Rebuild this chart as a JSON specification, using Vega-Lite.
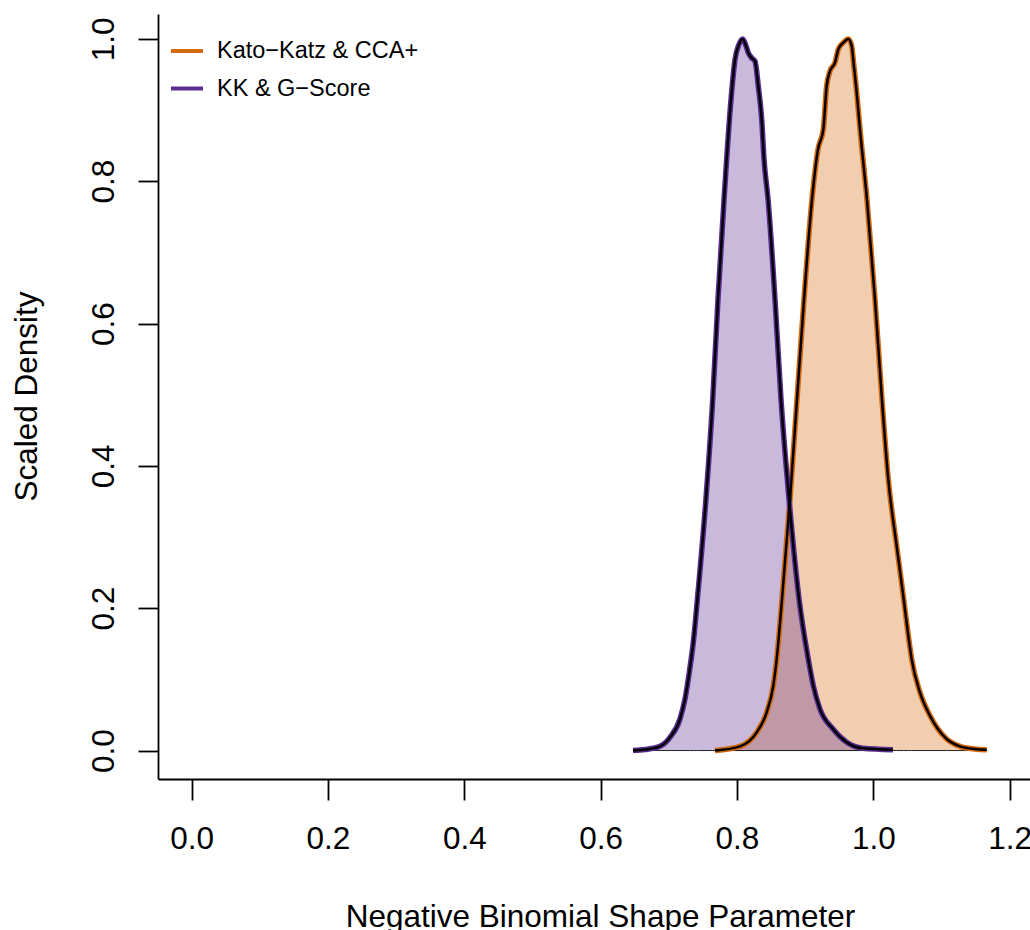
{
  "$schema": "https://vega.github.io/schema/vega-lite/v6.json",
  "width": 872,
  "height": 765,
  "autosize": {"type": "none"},
  "padding": {"left": 158, "top": 14, "right": 0, "bottom": 151},
  "background": "white",
  "config": {
    "view": {"stroke": null},
    "font": "Liberation Sans",
    "axis": {
      "grid": false,
      "domainColor": "black",
      "domainWidth": 1.8,
      "tickColor": "black",
      "tickWidth": 1.8,
      "labelColor": "black",
      "labelFontSize": 31.5,
      "labelFont": "Liberation Sans",
      "labelFlush": false,
      "labelOverlap": false,
      "titleColor": "black",
      "titleFontSize": 31.5,
      "titleFont": "Liberation Sans",
      "titleFontWeight": "normal"
    },
    "legend": {
      "title": null,
      "orient": "none",
      "legendX": 11,
      "legendY": 19,
      "padding": 0,
      "symbolType": "stroke",
      "symbolStrokeWidth": 4,
      "symbolSize": 1024,
      "symbolOpacity": 1,
      "labelFont": "Liberation Sans",
      "labelFontSize": 23.5,
      "labelColor": "black",
      "labelOffset": 12,
      "labelLimit": 500,
      "rowPadding": 7.5
    }
  },
  "data": {
    "values": [
      {"series": "Kato−Katz & CCA+", "x": 0.7678, "density": 0},
      {"series": "Kato−Katz & CCA+", "x": 0.8046, "density": 0.0059},
      {"series": "Kato−Katz & CCA+", "x": 0.8290, "density": 0.0256},
      {"series": "Kato−Katz & CCA+", "x": 0.8436, "density": 0.0537},
      {"series": "Kato−Katz & CCA+", "x": 0.8533, "density": 0.0910},
      {"series": "Kato−Katz & CCA+", "x": 0.8583, "density": 0.1285},
      {"series": "Kato−Katz & CCA+", "x": 0.8661, "density": 0.2128},
      {"series": "Kato−Katz & CCA+", "x": 0.8778, "density": 0.3532},
      {"series": "Kato−Katz & CCA+", "x": 0.8881, "density": 0.4937},
      {"series": "Kato−Katz & CCA+", "x": 0.8984, "density": 0.6341},
      {"series": "Kato−Katz & CCA+", "x": 0.9101, "density": 0.7746},
      {"series": "Kato−Katz & CCA+", "x": 0.9189, "density": 0.8448},
      {"series": "Kato−Katz & CCA+", "x": 0.9267, "density": 0.8729},
      {"series": "Kato−Katz & CCA+", "x": 0.9316, "density": 0.9337},
      {"series": "Kato−Katz & CCA+", "x": 0.9365, "density": 0.9548},
      {"series": "Kato−Katz & CCA+", "x": 0.9438, "density": 0.9666},
      {"series": "Kato−Katz & CCA+", "x": 0.9487, "density": 0.9853},
      {"series": "Kato−Katz & CCA+", "x": 0.9560, "density": 0.9947},
      {"series": "Kato−Katz & CCA+", "x": 0.9633, "density": 1.0},
      {"series": "Kato−Katz & CCA+", "x": 0.9683, "density": 0.9906},
      {"series": "Kato−Katz & CCA+", "x": 0.9707, "density": 0.9698},
      {"series": "Kato−Katz & CCA+", "x": 0.9757, "density": 0.9244},
      {"series": "Kato−Katz & CCA+", "x": 0.9805, "density": 0.8729},
      {"series": "Kato−Katz & CCA+", "x": 0.9907, "density": 0.7746},
      {"series": "Kato−Katz & CCA+", "x": 1.0025, "density": 0.6341},
      {"series": "Kato−Katz & CCA+", "x": 1.0127, "density": 0.4937},
      {"series": "Kato−Katz & CCA+", "x": 1.0220, "density": 0.3813},
      {"series": "Kato−Katz & CCA+", "x": 1.0343, "density": 0.2876},
      {"series": "Kato−Katz & CCA+", "x": 1.0440, "density": 0.2174},
      {"series": "Kato−Katz & CCA+", "x": 1.0514, "density": 0.1612},
      {"series": "Kato−Katz & CCA+", "x": 1.0563, "density": 0.1285},
      {"series": "Kato−Katz & CCA+", "x": 1.0685, "density": 0.0817},
      {"series": "Kato−Katz & CCA+", "x": 1.0832, "density": 0.0489},
      {"series": "Kato−Katz & CCA+", "x": 1.1077, "density": 0.0162},
      {"series": "Kato−Katz & CCA+", "x": 1.1272, "density": 0.0059},
      {"series": "Kato−Katz & CCA+", "x": 1.1492, "density": 0.0021},
      {"series": "Kato−Katz & CCA+", "x": 1.1664, "density": 0.0011},
      {"series": "KK & G−Score", "x": 0.6475, "density": 0},
      {"series": "KK & G−Score", "x": 0.6651, "density": 0.0014},
      {"series": "KK & G−Score", "x": 0.6871, "density": 0.0059},
      {"series": "KK & G−Score", "x": 0.7018, "density": 0.0185},
      {"series": "KK & G−Score", "x": 0.7164, "density": 0.0442},
      {"series": "KK & G−Score", "x": 0.7238, "density": 0.0723},
      {"series": "KK & G−Score", "x": 0.7301, "density": 0.1098},
      {"series": "KK & G−Score", "x": 0.7365, "density": 0.1566},
      {"series": "KK & G−Score", "x": 0.7420, "density": 0.2128},
      {"series": "KK & G−Score", "x": 0.7545, "density": 0.3532},
      {"series": "KK & G−Score", "x": 0.7645, "density": 0.4937},
      {"series": "KK & G−Score", "x": 0.7722, "density": 0.6341},
      {"series": "KK & G−Score", "x": 0.7811, "density": 0.7746},
      {"series": "KK & G−Score", "x": 0.7913, "density": 0.9150},
      {"series": "KK & G−Score", "x": 0.7972, "density": 0.9712},
      {"series": "KK & G−Score", "x": 0.8030, "density": 0.9923},
      {"series": "KK & G−Score", "x": 0.8085, "density": 1.0},
      {"series": "KK & G−Score", "x": 0.8133, "density": 0.9902},
      {"series": "KK & G−Score", "x": 0.8166, "density": 0.9806},
      {"series": "KK & G−Score", "x": 0.8216, "density": 0.9733},
      {"series": "KK & G−Score", "x": 0.8264, "density": 0.9688},
      {"series": "KK & G−Score", "x": 0.8313, "density": 0.9337},
      {"series": "KK & G−Score", "x": 0.8363, "density": 0.8869},
      {"series": "KK & G−Score", "x": 0.8397, "density": 0.8308},
      {"series": "KK & G−Score", "x": 0.8456, "density": 0.7746},
      {"series": "KK & G−Score", "x": 0.8558, "density": 0.6341},
      {"series": "KK & G−Score", "x": 0.8646, "density": 0.4937},
      {"series": "KK & G−Score", "x": 0.8764, "density": 0.3532},
      {"series": "KK & G−Score", "x": 0.8911, "density": 0.2128},
      {"series": "KK & G−Score", "x": 0.9046, "density": 0.1285},
      {"series": "KK & G−Score", "x": 0.9120, "density": 0.0910},
      {"series": "KK & G−Score", "x": 0.9218, "density": 0.0583},
      {"series": "KK & G−Score", "x": 0.9409, "density": 0.0302},
      {"series": "KK & G−Score", "x": 0.9610, "density": 0.0115},
      {"series": "KK & G−Score", "x": 0.9849, "density": 0.0031},
      {"series": "KK & G−Score", "x": 1.0289, "density": 0.0011}
    ]
  },
  "encoding": {
    "x": {
      "field": "x",
      "type": "quantitative",
      "scale": {"domain": [-0.0493, 1.2299], "nice": false, "zero": false},
      "axis": {
        "values": [0, 0.2, 0.4, 0.6, 0.8, 1.0, 1.2],
        "format": ".1f",
        "tickSize": 21,
        "labelBaseline": "alphabetic",
        "labelPadding": 48,
        "title": "Negative Binomial Shape Parameter",
        "titleBaseline": "alphabetic",
        "titleX": 442,
        "titleY": 147,
        "titleAnchor": "middle"
      }
    },
    "y": {
      "field": "density",
      "type": "quantitative",
      "scale": {"domain": [-0.04, 1.035], "nice": false, "zero": false},
      "axis": {
        "values": [0, 0.2, 0.4, 0.6, 0.8, 1.0],
        "format": ".1f",
        "tickSize": 20,
        "labelAngle": 270,
        "labelAlign": "center",
        "labelBaseline": "alphabetic",
        "labelPadding": 25,
        "title": "Scaled Density",
        "titleAngle": 270,
        "titleAlign": "center",
        "titleBaseline": "alphabetic",
        "titleX": -122,
        "titleY": 382
      }
    }
  },
  "layer": [
    {
      "mark": {"type": "area", "interpolate": "monotone", "fillOpacity": 0.33, "stroke": "#222222", "strokeWidth": 1},
      "encoding": {
        "y2": {"datum": 0},
        "fill": {
          "field": "series",
          "type": "nominal",
          "scale": {"domain": ["Kato−Katz & CCA+", "KK & G−Score"], "range": ["#D5690F", "#5A2D91"]}
        }
      }
    },
    {
      "mark": {"type": "line", "interpolate": "monotone", "strokeWidth": 5.5},
      "encoding": {
        "stroke": {
          "field": "series",
          "type": "nominal",
          "scale": {"domain": ["Kato−Katz & CCA+", "KK & G−Score"], "range": ["#D5690F", "#5A2D91"]}
        }
      }
    },
    {
      "mark": {"type": "line", "interpolate": "monotone", "strokeWidth": 2.5, "color": "black"},
      "encoding": {
        "detail": {"field": "series", "type": "nominal"}
      }
    }
  ]
}
